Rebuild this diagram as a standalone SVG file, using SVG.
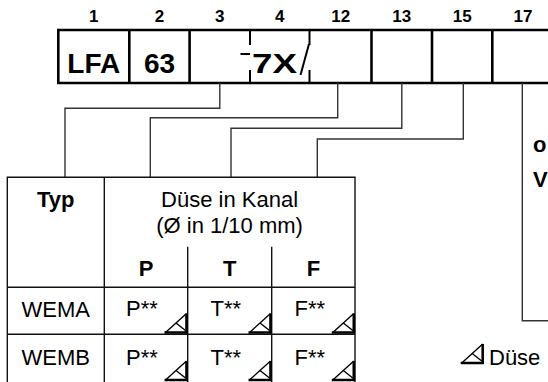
<svg xmlns="http://www.w3.org/2000/svg" width="548" height="382" viewBox="0 0 548 382">
<defs>
<style>
text{font-family:"Liberation Sans",Arial,Helvetica,sans-serif;fill:#000}
.num{font-size:17px;font-weight:bold;text-anchor:middle}
.big{font-size:28px;font-weight:bold;text-anchor:middle}
.t{font-size:22px}
.tb{font-size:22px;font-weight:bold}
.c{text-anchor:middle}
.box{fill:none;stroke:#000;stroke-width:2.6}
.tick{stroke:#000;stroke-width:2}
.conn{fill:none;stroke:#333;stroke-width:1.4}
.tab{fill:none;stroke:#111;stroke-width:1.4}
.tri{fill:none;stroke:#000;stroke-width:1.4;stroke-linejoin:miter}
.trib{fill:none;stroke:#000;stroke-width:2.6}
</style>
<g id="nozzle">
<path class="tri" d="M-21,0 L0,-19 M-10.5,-9.5 L-1,-2"/>
<path class="trib" d="M-22,0 H0 V-19"/>
</g>
</defs>
<rect width="548" height="382" fill="#fff"/>

<g id="numbers">
<text class="num" x="93.8" y="22">1</text>
<text class="num" x="159.6" y="22">2</text>
<text class="num" x="219.8" y="22">3</text>
<text class="num" x="279.8" y="22">4</text>
<text class="num" x="340.8" y="22">12</text>
<text class="num" x="401.8" y="22">13</text>
<text class="num" x="462.2" y="22">15</text>
<text class="num" x="523" y="22">17</text>
</g>

<g id="code-box">
<path class="box" d="M560,30 H58.3 V83 H560"/>
<line class="box" x1="129.3" y1="30" x2="129.3" y2="83"/>
<line class="box" x1="189.6" y1="30" x2="189.6" y2="83"/>
<line class="box" x1="371.5" y1="30" x2="371.5" y2="83"/>
<line class="box" x1="432" y1="30" x2="432" y2="83"/>
<line class="box" x1="492.3" y1="30" x2="492.3" y2="83"/>
<line class="tick" x1="250" y1="30" x2="250" y2="45"/>
<line class="tick" x1="250" y1="70" x2="250" y2="83"/>
<line class="tick" x1="309.5" y1="30" x2="309.5" y2="45"/>
<line class="tick" x1="309.5" y1="70" x2="309.5" y2="83"/>
<text class="big" x="93.8" y="73.3">LFA</text>
<text class="big" x="159.6" y="73.3">63</text>
<line class="tick" x1="240.5" y1="54" x2="250" y2="54"/>
<text class="big" x="252" y="73.3" style="text-anchor:start" textLength="45" lengthAdjust="spacingAndGlyphs">7X</text>
<line class="tick" x1="300.5" y1="75" x2="309" y2="44"/>
</g>

<g id="connectors">
<path class="conn" d="M219.8,83 V108.3 H65 V177.3"/>
<path class="conn" d="M337.7,83 V117.7 H150.3 V177.3"/>
<path class="conn" d="M401.8,83 V128.3 H231 V177.3"/>
<path class="conn" d="M463.3,83 V139 H317.3 V177.3"/>
<path class="conn" d="M522.3,83 V320.7 H560"/>
</g>

<g id="table">
<path class="tab" d="M7.3,382 V177.3 H355 V382"/>
<line class="tab" x1="104.3" y1="177.3" x2="104.3" y2="382"/>
<line class="tab" x1="187.7" y1="246.7" x2="187.7" y2="382"/>
<line class="tab" x1="271.7" y1="246.7" x2="271.7" y2="382"/>
<line class="tab" x1="7.3" y1="287.3" x2="355" y2="287.3"/>
<line class="tab" x1="7.3" y1="334.3" x2="355" y2="334.3"/>
<text class="tb c" x="55.8" y="207">Typ</text>
<text class="t c" x="229.6" y="207">Düse in Kanal</text>
<text class="t c" x="229.6" y="233">(Ø in 1/10 mm)</text>
<text class="tb c" x="146" y="275.7">P</text>
<text class="tb c" x="229.7" y="275.7">T</text>
<text class="tb c" x="313.4" y="275.7">F</text>
<text class="t c" x="55.8" y="316.7">WEMA</text>
<text class="t c" x="55.8" y="365">WEMB</text>
<text class="t" x="126" y="316.3">P**</text>
<text class="t" x="210.5" y="316.3">T**</text>
<text class="t" x="294.5" y="316.3">F**</text>
<text class="t" x="126" y="364.8">P**</text>
<text class="t" x="210.5" y="364.8">T**</text>
<text class="t" x="294.5" y="364.8">F**</text>
<use href="#nozzle" x="186.5" y="332.5"/>
<use href="#nozzle" x="270.5" y="332.5"/>
<use href="#nozzle" x="353.8" y="332.5"/>
<use href="#nozzle" x="186.5" y="380"/>
<use href="#nozzle" x="270.5" y="380"/>
<use href="#nozzle" x="353.8" y="380"/>
</g>

<g id="side-text">
<text class="tb" x="533" y="152">o</text>
<text class="tb" x="533" y="187">V</text>
</g>

<g id="legend">
<use href="#nozzle" x="482.7" y="363"/>
<text class="t" x="489" y="365">Düse</text>
</g>
</svg>
